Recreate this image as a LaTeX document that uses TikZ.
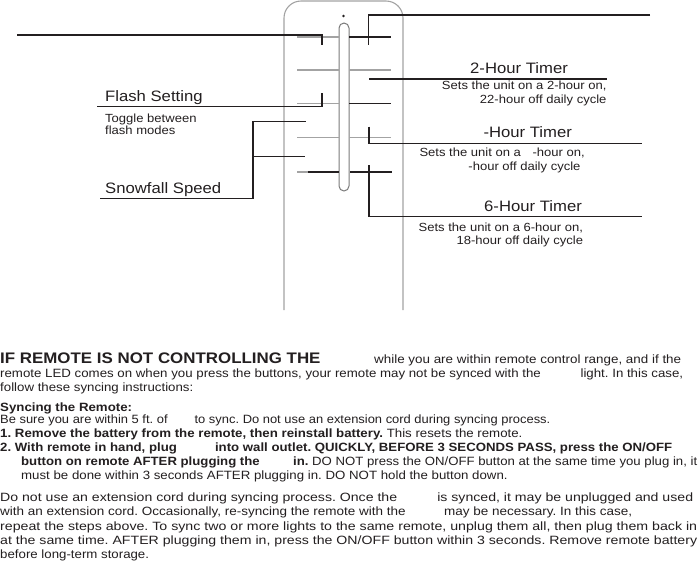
\documentclass[tikz,border=0pt]{standalone}
\usepackage{fontspec}
\usepackage{graphicx}
\setmainfont{Liberation Sans}[FakeStretch=1.105]
\definecolor{ink}{HTML}{231F20}
\definecolor{greyline}{HTML}{A3A3A3}
\newcommand\hdfont{\fontsize{15.1}{18}\selectfont}
\newcommand\smfont{\fontsize{11.8}{14}\selectfont}
\newcommand\bodyfont{\fontsize{12}{14}\selectfont}
\newcommand\bigbold{\fontsize{15.3}{18}\selectfont\bfseries}
\newlength\fitnat
\newcommand\fitline[2]{\settowidth\fitnat{#2}\pgfmathsetmacro\fitr{#1/\the\fitnat}\scalebox{\fitr}[1]{#2}}
\begin{document}
\frenchspacing
\begin{tikzpicture}[x=1pt,y=-1pt,
  txt/.style={inner sep=0pt, anchor=base west, text=ink},
  txtr/.style={inner sep=0pt, anchor=base east, text=ink},
  lead/.style={draw=ink, line width=1.3pt},
  gry/.style={draw=greyline, line width=1.1pt},
  dk/.style={draw=ink, line width=1.1pt}]
\useasboundingbox (0,0) rectangle (699,574);
\fill[white] (0,0) rectangle (699,574);

% remote body
\draw[gry, rounded corners=17pt] (284,310) -- (284,1) -- (403,1) -- (403,310);
\draw[draw=greyline!75!black, line width=1pt, rounded corners=5pt] (339,23) rectangle (349,191);
\fill[ink] (343.5,16) circle (1.3pt);

% button lines
\foreach \yy in {37,70,103.5,137.5} {\draw[gry] (297,\yy) -- (339,\yy);}
\draw[gry] (297,172) -- (308,172);
\draw[dk] (308,172) -- (339,172);
\draw[gry] (349,70) -- (391,70);
\draw[gry] (349,137.5) -- (391,137.5);
\draw[dk] (349,37) -- (391,37);
\draw[dk] (349,103.5) -- (391,103.5);
\draw[dk] (350,172) -- (392,172);

% coordinates for leaders
\coordinate (tl0) at (17,35);   \coordinate (tl1) at (322,35);  \coordinate (tl2) at (322,45);
\coordinate (fs0) at (97,106.7); \coordinate (fs1) at (322,106.7); \coordinate (fs2) at (322,92.7);
\coordinate (sn0) at (100,198.3); \coordinate (sn1) at (253,198.3); \coordinate (sn2) at (253,121.7);
\coordinate (sn3) at (305.7,121.7); \coordinate (sn4) at (253,156.7); \coordinate (sn5) at (304.7,156.7);
\coordinate (tr0) at (650,15); \coordinate (tr1) at (368.3,15); \coordinate (tr2) at (368.3,45);
\coordinate (h20) at (369.3,79); \coordinate (h21) at (606.7,79);
\coordinate (hx0) at (369,126.7); \coordinate (hx1) at (369,143.3); \coordinate (hx2) at (642,143.3);
\coordinate (h60) at (369,165); \coordinate (h61) at (369,216.7); \coordinate (h62) at (642,216.7);

\draw[lead] (tl0) -- (tl1) -- (tl2);
\draw[lead] (fs0) -- (fs1) -- (fs2);
\draw[lead] (sn0) -- (sn1) -- (sn2) -- (sn3);
\draw[lead] (sn4) -- (sn5);
\draw[lead] (tr0) -- (tr1) -- (tr2);
\draw[lead] (h20) -- (h21);
\draw[lead] (hx0) -- (hx1) -- (hx2);
\draw[lead] (h60) -- (h61) -- (h62);

% labels
\node[txt] (flash) at (105,101) {\hdfont Flash Setting};
\node[txt] (tog1) at (105,122.3) {\smfont Toggle between};
\node[txt] (tog2) at (105,134.3) {\smfont flash modes};
\node[txt] (snow) at (105,193.3) {\hdfont Snowfall Speed};

\node[txt] (t2) at (470,73.3) {\hdfont 2-Hour Timer};
\node[txtr] (t2a) at (606.7,89.3) {\smfont Sets the unit on a 2-hour on,};
\node[txtr] (t2b) at (606.7,103.3) {\smfont 22-hour off daily cycle};
\node[txt] (tx) at (483.3,137.7) {\hdfont -Hour Timer};
\node[txtr] (txa) at (585,156.7) {\smfont Sets the unit on a\hspace{8pt} -hour on,};
\node[txtr] (txb) at (580.7,170.3) {\smfont -hour off daily cycle};
\node[txt] (t6) at (484,211.7) {\hdfont 6-Hour Timer};
\node[txtr] (t6a) at (583.3,231) {\smfont Sets the unit on a 6-hour on,};
\node[txtr] (t6b) at (583.3,244.3) {\smfont 18-hour off daily cycle};

% body text
\node[txt] (l1a) at (0,363.3) {\bigbold IF REMOTE IS NOT CONTROLLING THE};
\node[txt] (l1b) at (374,363.3) {\fitline{307pt}{\bodyfont while you are within remote control range, and if the}};
\node[txt] (l2) at (0,377.7) {\fitline{683pt}{\bodyfont remote LED comes on when you press the buttons, your remote may not be synced with the\hspace{36pt} light. In this case,}};
\node[txt] (l3) at (0,391) {\bodyfont follow these syncing instructions:};
\node[txt] (l4) at (0,411) {\bodyfont\bfseries Syncing the Remote:};
\node[txt] (l5) at (0,423.5) {\scalebox{0.975}[1]{\bodyfont Be sure you are within 5 ft. of\hspace{24pt} to sync. Do not use an extension cord during syncing process.}};
\node[txt] (l6) at (0,437) {\bodyfont\textbf{1. Remove the battery from the remote, then reinstall battery.} This resets the remote.};
\node[txt] (l7) at (0,451) {\fitline{672pt}{\bodyfont\bfseries 2. With remote in hand, plug\hspace{34.6pt} into wall outlet. QUICKLY, BEFORE 3 SECONDS PASS, press the ON/OFF}};
\node[txt] (l8) at (21,465) {\fitline{676pt}{\bodyfont\textbf{button on remote AFTER plugging the\hspace{30pt} in.} DO NOT press the ON/OFF button at the same time you plug in, it}};
\node[txt] (l9) at (21,479) {\bodyfont must be done within 3 seconds AFTER plugging in. DO NOT hold the button down.};
\node[txt] (p1) at (0,501.5) {\fitline{693pt}{\bodyfont Do not use an extension cord during syncing process. Once the\hspace{34pt} is synced, it may be unplugged and used}};
\node[txt] (p2) at (0,515.7) {\fitline{632pt}{\bodyfont with an extension cord. Occasionally, re-syncing the remote with the\hspace{34pt} may be necessary. In this case,}};
\node[txt] (p3) at (0,530) {\fitline{697pt}{\bodyfont repeat the steps above. To sync two or more lights to the same remote, unplug them all, then plug them back in}};
\node[txt] (p4) at (0,544.2) {\fitline{697pt}{\bodyfont at the same time. AFTER plugging them in, press the ON/OFF button within 3 seconds. Remove remote battery}};
\node[txt] (p5) at (0,558.4) {\bodyfont before long-term storage.};
\end{tikzpicture}
\end{document}
